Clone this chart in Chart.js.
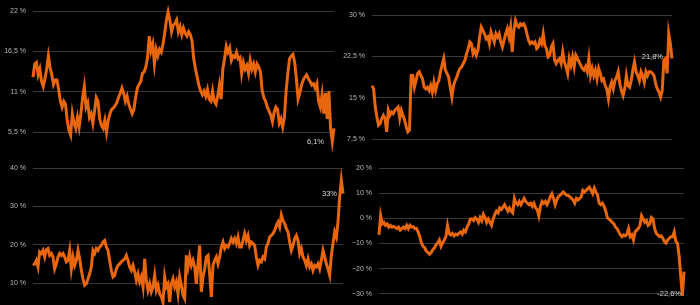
<!DOCTYPE html>
<html>
<head>
<meta charset="utf-8">
<script src="https://cdn.jsdelivr.net/npm/chart.js@4/dist/chart.umd.min.js"></script>
<style>
  html, body { margin: 0; padding: 0; background: #000; }
  #wrap { position: relative; width: 700px; height: 305px; }
  #wrap canvas { position: absolute; left: 0; top: 0; }
</style>
</head>
<body>
<div id="wrap">
  <canvas id="c1" width="700" height="305"></canvas>
  <canvas id="c2" width="700" height="305"></canvas>
  <canvas id="c3" width="700" height="305"></canvas>
  <canvas id="c4" width="700" height="305"></canvas>
</div>
<script>
// values
var topLeft = [13.0, 14.8, 15.0, 13.3, 14.1, 12.4, 11.7, 12.8, 14.1, 15.9, 14.3, 13.3, 12.0, 12.6, 12.6, 11.3, 9.7, 8.9, 9.7, 9.3, 7.1, 5.8, 5.1, 8.0, 6.7, 6.0, 7.5, 6.2, 8.0, 10.2, 11.7, 8.9, 9.5, 7.5, 8.0, 6.7, 8.4, 10.2, 9.7, 7.3, 6.4, 6.0, 7.1, 5.5, 7.1, 8.0, 8.6, 8.8, 9.1, 9.5, 10.2, 10.8, 11.5, 10.8, 9.7, 10.4, 9.3, 8.6, 8.0, 8.6, 10.2, 11.5, 12.0, 12.4, 13.5, 13.7, 14.4, 15.7, 18.6, 16.6, 17.5, 14.8, 16.8, 15.9, 16.8, 16.4, 17.5, 19.0, 20.8, 21.9, 20.8, 19.2, 20.1, 20.3, 20.8, 19.2, 19.9, 18.8, 19.7, 19.0, 18.6, 19.2, 18.8, 17.9, 15.5, 14.1, 13.0, 11.9, 11.1, 10.6, 11.1, 10.4, 11.3, 10.0, 9.7, 11.1, 9.7, 9.3, 10.4, 11.9, 10.0, 14.1, 15.5, 17.2, 16.4, 17.0, 15.3, 15.9, 15.7, 16.4, 15.5, 15.7, 13.5, 15.0, 14.1, 14.6, 13.5, 15.3, 14.1, 14.8, 13.7, 14.8, 14.4, 13.7, 11.1, 10.2, 9.7, 8.9, 8.4, 7.8, 6.9, 8.2, 8.9, 8.6, 6.7, 7.3, 6.2, 7.5, 11.1, 13.5, 15.5, 15.9, 16.1, 15.0, 12.8, 10.0, 10.8, 11.9, 12.6, 13.0, 13.3, 12.8, 12.4, 11.9, 12.1, 11.5, 12.1, 9.7, 8.9, 10.6, 8.0, 10.8, 7.3, 11.1, 6.0, 4.2, 6.0];
var topRight = [17.2, 16.6, 13.3, 11.5, 10.0, 10.3, 11.2, 11.8, 11.2, 8.8, 12.7, 11.8, 12.4, 12.1, 12.7, 13.0, 13.3, 11.2, 12.7, 11.8, 10.9, 9.7, 8.8, 9.1, 19.0, 19.0, 16.9, 18.1, 19.4, 19.7, 19.0, 18.4, 16.9, 16.6, 16.9, 16.3, 17.2, 16.0, 17.8, 16.3, 17.5, 18.1, 19.7, 20.9, 22.1, 20.0, 19.4, 18.7, 16.9, 15.1, 17.2, 18.1, 18.7, 19.7, 20.3, 20.6, 21.2, 21.8, 23.0, 23.9, 25.1, 24.8, 23.0, 23.6, 22.7, 23.6, 26.0, 27.8, 27.2, 26.6, 25.7, 26.0, 24.8, 26.9, 26.0, 25.1, 26.6, 26.0, 26.6, 25.1, 24.2, 25.4, 26.6, 27.5, 26.0, 27.8, 23.3, 27.2, 29.0, 28.1, 27.8, 28.4, 28.1, 28.4, 27.8, 26.6, 25.4, 24.8, 25.1, 24.8, 25.1, 23.9, 24.2, 25.4, 24.8, 26.6, 24.5, 23.9, 22.4, 22.7, 24.2, 24.8, 21.8, 21.2, 21.8, 22.1, 21.2, 23.3, 21.5, 20.6, 19.4, 22.1, 20.9, 22.4, 20.6, 22.7, 22.1, 21.5, 20.9, 20.3, 20.0, 20.6, 19.7, 22.1, 19.0, 20.3, 19.0, 20.0, 18.4, 20.3, 19.4, 18.1, 18.4, 17.2, 16.6, 14.8, 16.9, 17.8, 16.6, 18.1, 18.7, 19.7, 17.5, 16.3, 15.4, 16.6, 19.0, 17.2, 16.9, 18.1, 20.0, 21.5, 19.7, 19.0, 18.1, 19.7, 19.0, 17.8, 19.7, 19.0, 19.7, 19.7, 19.4, 19.0, 17.5, 16.6, 16.0, 15.1, 16.3, 21.8, 22.1, 19.4, 26.6, 24.8, 22.1];
var bottomLeft = [14.6, 15.0, 15.9, 14.2, 18.1, 17.7, 18.5, 16.8, 18.7, 19.0, 17.2, 17.7, 16.8, 13.7, 15.0, 16.8, 17.7, 17.2, 17.7, 16.8, 15.5, 15.9, 18.5, 13.7, 16.8, 14.6, 15.9, 18.5, 16.3, 13.3, 11.1, 9.4, 9.8, 11.1, 12.4, 14.2, 18.5, 17.7, 19.0, 18.5, 19.4, 19.8, 20.7, 21.1, 19.4, 18.5, 15.9, 13.3, 11.6, 12.0, 13.7, 14.6, 15.0, 15.5, 15.9, 16.3, 17.2, 15.9, 14.2, 13.3, 14.6, 12.9, 10.7, 12.4, 10.3, 11.6, 9.0, 16.3, 10.7, 8.1, 9.8, 7.7, 9.0, 12.0, 8.1, 9.4, 7.2, 6.4, 5.0, 11.6, 9.0, 9.8, 5.0, 9.8, 11.1, 9.0, 10.3, 7.2, 11.6, 9.4, 6.8, 5.9, 17.2, 14.2, 16.8, 14.6, 15.9, 14.2, 9.8, 15.0, 19.8, 7.7, 11.6, 13.7, 16.8, 17.2, 12.4, 6.4, 14.6, 15.9, 16.8, 15.0, 16.8, 19.4, 20.7, 19.0, 19.8, 19.4, 20.3, 21.6, 20.7, 21.6, 20.3, 22.0, 19.4, 19.4, 21.1, 22.9, 21.1, 22.4, 19.8, 20.7, 20.3, 19.8, 16.8, 14.6, 15.9, 15.5, 16.8, 16.3, 19.4, 20.3, 22.0, 22.4, 22.9, 23.7, 25.0, 25.9, 24.6, 27.7, 26.3, 25.5, 24.2, 23.3, 20.7, 18.5, 19.8, 21.6, 22.4, 21.1, 17.7, 19.0, 16.8, 15.9, 14.6, 16.3, 14.2, 15.0, 13.3, 14.6, 14.2, 15.0, 13.7, 15.9, 18.5, 16.8, 15.0, 13.7, 12.0, 17.2, 20.3, 23.3, 22.0, 25.9, 32.4, 36.8, 33.3];
var bottomRight = [-6.6, 1.0, -2.2, -1.6, -2.8, -2.2, -3.5, -2.8, -3.5, -3.2, -3.7, -4.1, -3.5, -4.7, -4.1, -3.5, -4.1, -2.8, -4.1, -2.8, -3.5, -3.3, -4.1, -4.0, -5.4, -7.3, -9.8, -11.1, -11.7, -13.0, -13.6, -14.3, -13.6, -12.4, -11.7, -10.5, -9.8, -8.6, -11.1, -9.8, -8.6, -7.3, -2.8, -6.0, -6.6, -6.0, -7.0, -6.3, -6.6, -6.0, -5.4, -6.3, -4.7, -5.4, -3.5, -2.2, -0.3, -0.3, -0.9, 0.3, -0.3, -1.6, 0.3, -0.9, 1.6, 0.3, -1.6, -0.3, -1.6, -2.8, -0.3, 1.6, 2.9, 2.2, 4.1, 3.5, 4.4, 5.4, 4.1, 2.9, 4.1, 2.9, 2.2, 7.9, 6.0, 5.4, 6.7, 5.4, 6.7, 7.9, 6.7, 6.0, 5.4, 6.0, 4.8, 6.0, 4.1, 3.5, 1.0, 4.8, 6.7, 6.0, 6.7, 5.4, 6.7, 8.6, 9.8, 7.9, 5.4, 7.3, 8.6, 9.2, 9.8, 10.5, 9.8, 9.2, 9.0, 8.6, 7.9, 7.3, 6.0, 7.9, 7.3, 7.9, 8.6, 11.1, 10.5, 11.1, 11.8, 12.4, 11.1, 9.8, 12.0, 10.5, 9.2, 6.0, 5.4, 6.0, 4.8, 2.9, 0.3, -0.3, -0.9, -1.6, -2.2, -3.5, -4.1, -5.4, -6.6, -7.3, -6.6, -7.0, -6.3, -4.1, -7.3, -6.6, -8.6, -5.4, -4.7, -4.1, -2.8, 1.0, -0.3, -1.6, -0.9, -2.8, -2.2, 0.3, -0.3, -4.1, -6.0, -6.6, -7.3, -7.0, -7.9, -9.2, -9.8, -8.6, -7.9, -7.3, -7.3, -5.4, -9.2, -9.8, -14.9, -23.1, -30.8, -21.2];

var topLeftTicks = [5.5, 11, 16.5, 22];
var topRightTicks = [7.5, 15, 22.5, 30];
var bottomLeftTicks = [10, 20, 30, 40];
var bottomRightTicks = [-30, -20, -10, 0, 10, 20];

var endLabels = ['6,1%', '21,8%', '33%', '-22,6%'];

var ORANGE = '#e8660c';

function fmt(v) {
  return String(v).replace('.', ',').replace('-', '\u2212') + ' %';
}

// draws the last-value text next to the end of the line
var endLabelPlugin = {
  id: 'endLabel',
  afterDatasetsDraw: function(chart, args, opts) {
    var meta = chart.getDatasetMeta(0);
    var last = meta.data[meta.data.length - 1];
    var ctx = chart.ctx;
    ctx.save();
    ctx.font = '7.5px "Liberation Sans", Arial, sans-serif';
    ctx.fillStyle = '#d8d8d8';
    ctx.textAlign = 'right';
    ctx.textBaseline = 'middle';
    ctx.fillText(opts.text, last.x + opts.dx, last.y + opts.dy);
    ctx.restore();
  }
};

function makeChart(id, values, ticks, label, pad, axisW, off) {
  var ctx = document.getElementById(id).getContext('2d');
  return new Chart(ctx, {
    type: 'line',
    data: {
      labels: values.map(function(v, i) { return i; }),
      datasets: [{
        data: values,
        borderColor: ORANGE,
        borderWidth: 3,
        pointRadius: 0,
        tension: 0,
        clip: false
      }]
    },
    options: {
      responsive: false,
      animation: false,
      layout: { padding: pad },
      plugins: {
        legend: { display: false },
        tooltip: { enabled: false },
        endLabel: { text: label, dx: off[0], dy: off[1] }
      },
      scales: {
        x: { display: false },
        y: {
          min: ticks[0],
          max: ticks[ticks.length - 1],
          afterBuildTicks: function(scale) {
            scale.ticks = ticks.map(function(t) { return { value: t }; });
          },
          afterFit: function(scale) { scale.width = axisW; },
          border: { display: false },
          grid: { color: '#383838', lineWidth: 1, drawTicks: false },
          ticks: {
            color: '#b8b8b8',
            padding: 7,
            font: { family: '"Liberation Sans", Arial, sans-serif', size: 7 },
            callback: function(v) { return fmt(v); }
          }
        }
      }
    },
    plugins: [endLabelPlugin]
  });
}

makeChart('c1', topLeft, topLeftTicks, endLabels[0], { left: 0, top: 7, right: 366, bottom: 173 }, 33, [-10, 14]);
makeChart('c2', topRight, topRightTicks, endLabels[1], { left: 338, top: 15, right: 28, bottom: 166 }, 34, [-9, -2]);
makeChart('c3', bottomLeft, bottomLeftTicks, endLabels[2], { left: 0, top: 168, right: 357, bottom: 22 }, 33, [-6, 0]);
makeChart('c4', bottomRight, bottomRightTicks, endLabels[3], { left: 348, top: 168, right: 16, bottom: 5 }, 31, [-3, 22]);
</script>
</body>
</html>
